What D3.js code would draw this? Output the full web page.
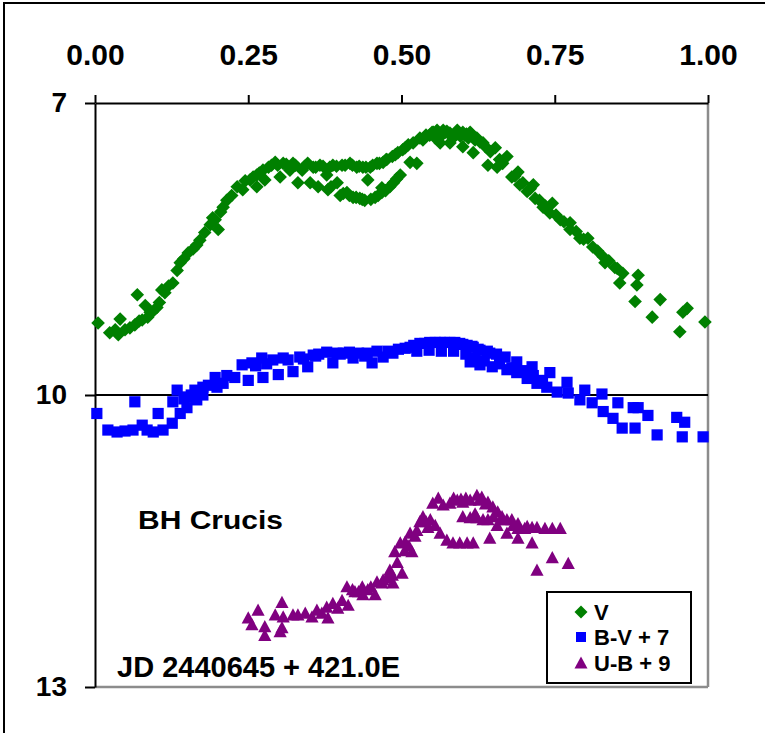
<!DOCTYPE html>
<html><head><meta charset="utf-8">
<script src="https://cdn.jsdelivr.net/npm/d3@7"></script>
<style>
html,body{margin:0;padding:0;background:#fff;}
svg{display:block;font-family:Arial,"Liberation Sans",sans-serif;}
</style></head>
<body><svg id="c" width="765" height="733"></svg>
<script>
// ---- data (phase, value) ----
const xTicks = [0, 0.25, 0.5, 0.75, 1.0];
const yTicks = [7, 10, 13];
const seriesNames = ["V", "B-V + 7", "U-B + 9"];
const bvOffset = 7, ubOffset = 9;

const vPhase = [0.005,0.024,0.038,0.041,0.049,0.057,0.065,0.069,0.077,0.082,0.086,0.093,0.101,0.109,0.114,0.127,0.134,0.139,0.152,0.166,0.171,0.179,0.188,0.192,0.201,0.209,0.215,0.223,0.232,0.241,0.253,0.264,0.264,0.274,0.277,0.294,0.302,0.307,0.318,0.323,0.331,0.338,0.347,0.351,0.356,0.364,0.367,0.378,0.380,0.388,0.395,0.400,0.403,0.411,0.416,0.421,0.427,0.432,0.437,0.440,0.445,0.449,0.457,0.460,0.468,0.468,0.470,0.481,0.485,0.494,0.498,0.506,0.511,0.514,0.519,0.525,0.535,0.546,0.558,0.563,0.568,0.579,0.579,0.591,0.600,0.600,0.612,0.617,0.623,0.633,0.641,0.653,0.656,0.672,0.680,0.690,0.693,0.705,0.715,0.718,0.731,0.746,0.742,0.759,0.775,0.775,0.791,0.804,0.812,0.829,0.832,0.848,0.861,0.856,0.886,0.884,0.881,0.922,0.909,0.959,0.966,0.954,0.995,0.476,0.490,0.502,0.530,0.552,0.574,0.585,0.596,0.606,
  0.298,0.312,0.327,0.342,0.360,0.372,0.383,0.394,0.408,0.420,0.431,0.442,0.453,0.464,0.475,
  0.385,0.405,0.415,0.426,0.436,0.450,0.462,0.474,0.487,0.492,
  0.245,0.258,0.268,0.283,0.288,0.196,0.205,0.160,0.145,0.120,0.105,0.090,0.072,0.033,
  0.540,0.550,0.555,0.566,0.572,0.584,0.590,0.603,0.609,0.615,0.620,0.628,0.637,0.645,
  0.660,0.665,0.685,0.698,0.710,0.725,0.735,0.752,0.765,0.785,0.797,0.820,0.838,0.852];
const vMag = [9.26,9.36,9.38,9.22,9.33,9.31,9.28,8.97,9.23,9.08,9.20,9.15,9.10,8.92,8.95,8.85,8.72,8.64,8.54,8.46,8.41,8.33,8.25,8.18,8.30,8.07,8.00,7.95,7.86,7.89,7.79,7.74,7.86,7.69,7.79,7.61,7.76,7.62,7.69,7.62,7.82,7.69,7.62,7.82,7.66,7.86,7.64,7.74,7.89,7.64,7.82,7.95,7.64,7.92,7.62,7.97,7.66,7.98,7.66,8.00,7.79,7.66,7.97,7.62,7.87,7.92,7.61,7.86,7.55,7.51,7.74,7.46,7.43,7.61,7.41,7.62,7.38,7.33,7.28,7.41,7.28,7.31,7.41,7.28,7.30,7.45,7.30,7.51,7.36,7.41,7.64,7.46,7.66,7.55,7.76,7.71,7.84,7.91,7.84,7.98,8.07,8.03,8.13,8.20,8.23,8.30,8.39,8.39,8.48,8.58,8.64,8.69,8.75,8.85,8.77,8.87,9.04,9.02,9.20,9.15,9.11,9.35,9.25,7.58,7.53,7.48,7.36,7.30,7.29,7.33,7.34,7.32,
  7.64,7.63,7.64,7.65,7.66,7.65,7.66,7.65,7.64,7.64,7.65,7.66,7.64,7.62,7.58,
  7.86,7.93,7.95,7.97,7.99,7.99,7.95,7.90,7.82,7.78,
  7.80,7.76,7.72,7.66,7.64,8.20,8.12,8.50,8.60,8.88,9.05,9.15,9.24,9.33,
  7.33,7.30,7.36,7.33,7.30,7.36,7.32,7.33,7.36,7.33,7.38,7.40,7.45,7.50,
  7.58,7.62,7.75,7.82,7.88,8.00,8.06,8.15,8.22,8.32,8.40,8.52,8.62,8.70];

const bvPhase = [0.003,0.021,0.036,0.049,0.062,0.065,0.077,0.085,0.095,0.103,0.111,0.126,0.127,0.134,0.139,0.150,0.150,0.163,0.166,0.176,0.176,0.196,0.199,0.209,0.228,0.240,0.250,0.256,0.272,0.274,0.290,0.299,0.307,0.323,0.334,0.347,0.356,0.378,0.388,0.405,0.421,0.444,0.452,0.470,0.486,0.506,0.514,0.530,0.546,0.563,0.579,0.595,0.607,0.617,0.628,0.644,0.612,0.628,0.648,0.669,0.672,0.688,0.688,0.705,0.713,0.721,0.737,0.742,0.754,0.772,0.770,0.791,0.799,0.811,0.829,0.827,0.845,0.853,0.860,0.878,0.881,0.886,0.902,0.917,0.949,0.962,0.958,0.992,
  0.365,0.395,0.415,0.430,0.460,0.478,0.495,0.520,0.538,0.555,0.570,0.587,0.600,0.615,0.625,0.640,0.655,
  0.525,0.545,0.565,0.585,0.605,0.620,0.635,0.660,0.680,0.700,0.715,0.730,
  0.262,0.280,0.315,0.340,0.360,0.400,0.440,0.145,0.157,0.185,0.215];
const bvColor = [3.19,3.36,3.38,3.37,3.36,3.07,3.31,3.36,3.38,3.19,3.36,3.29,3.07,2.95,3.19,3.13,3.02,2.95,3.05,2.92,3.00,2.82,2.92,2.88,2.82,2.69,2.85,2.67,2.62,2.82,2.64,2.79,2.62,2.76,2.61,2.71,2.59,2.56,2.67,2.57,2.62,2.57,2.67,2.61,2.57,2.52,2.51,2.47,2.46,2.46,2.46,2.47,2.49,2.51,2.54,2.57,2.66,2.69,2.71,2.61,2.74,2.66,2.77,2.83,2.71,2.88,2.92,2.77,2.97,2.98,2.87,3.05,2.95,3.08,3.17,2.99,3.24,3.08,3.34,3.13,3.34,3.13,3.21,3.41,3.23,3.28,3.43,3.43,
  2.58,2.57,2.56,2.57,2.55,2.55,2.53,2.49,2.47,2.46,2.46,2.46,2.48,2.50,2.53,2.55,2.58,
  2.55,2.54,2.55,2.55,2.58,2.62,2.65,2.68,2.72,2.75,2.80,2.85,
  2.70,2.68,2.64,2.63,2.60,2.58,2.60,3.04,3.00,2.90,2.80];

const ubPhase = [0.250,0.266,0.256,0.277,0.277,0.294,0.305,0.305,0.302,0.307,0.323,0.331,0.343,0.354,0.362,0.370,0.380,0.378,0.388,0.396,0.403,0.411,0.413,0.424,0.436,0.437,0.445,0.457,0.460,0.468,0.476,0.486,0.481,0.493,0.501,0.489,0.498,0.506,0.517,0.514,0.525,0.530,0.535,0.543,0.551,0.560,0.568,0.579,0.591,0.600,0.612,0.623,0.631,0.641,0.649,0.657,0.664,0.672,0.682,0.690,0.701,0.713,0.721,0.734,0.746,0.759,0.547,0.555,0.563,0.574,0.584,0.595,0.607,0.617,0.600,0.612,0.623,0.633,0.641,0.656,0.644,0.672,0.690,0.713,0.746,0.721,0.772,0.620,
  0.420,0.430,0.450,0.470,0.485,0.505,0.512,0.522,0.540,0.585,0.597,0.605,0.627,0.637,0.690,0.705,0.650,0.665,0.680];
const ubColor = [3.29,3.21,3.36,3.38,3.47,3.26,3.13,3.39,3.43,3.28,3.26,3.26,3.24,3.28,3.21,3.24,3.29,3.18,3.14,3.19,3.11,2.97,3.16,3.02,2.97,3.05,3.00,3.05,2.92,2.93,2.88,2.93,2.80,2.72,2.83,2.61,2.52,2.51,2.61,2.42,2.39,2.30,2.25,2.36,2.11,2.06,2.13,2.11,2.08,2.10,2.08,2.03,2.05,2.10,2.15,2.20,2.25,2.28,2.34,2.37,2.37,2.36,2.36,2.37,2.37,2.37,2.28,2.34,2.42,2.49,2.52,2.52,2.52,2.52,2.25,2.26,2.26,2.28,2.28,2.34,2.47,2.42,2.47,2.52,2.67,2.80,2.73,2.22,
  3.00,3.02,2.97,2.90,2.85,2.60,2.55,2.45,2.30,2.06,2.07,2.06,2.08,2.12,2.32,2.35,2.25,2.28,2.28];

// ---- drawing ----
const svg = d3.select("#c");
const x = d3.scaleLinear().domain([0, 1]).range([95, 708]);
const y = d3.scaleLinear().domain([7, 13]).range([103, 687]);
const colors = ["#008000", "#0000ff", "#800080"];
const FONT = "Arial, 'Liberation Sans', sans-serif";

// outer frame
svg.append("rect").attr("x", 4).attr("y", 3).attr("width", 800).attr("height", 800)
  .attr("fill", "#fff").attr("stroke", "#000").attr("stroke-width", 2);

// plot-area border (right & bottom grey)
svg.append("line").attr("x1", x(1)).attr("x2", x(1)).attr("y1", y(7)).attr("y2", y(13))
  .attr("stroke", "#8c8c8c").attr("stroke-width", 2.5);
svg.append("line").attr("x1", x(0)).attr("x2", x(1)).attr("y1", y(13)).attr("y2", y(13))
  .attr("stroke", "#8c8c8c").attr("stroke-width", 2.5);

// gridline at 10
svg.append("line").attr("x1", x(0)).attr("x2", x(1)).attr("y1", y(10)).attr("y2", y(10))
  .attr("stroke", "#000").attr("stroke-width", 2);

// top axis
const gx = svg.append("g").attr("transform", `translate(0,${y(7)})`)
  .call(d3.axisTop(x).tickValues(xTicks).tickFormat(d3.format(".2f")).tickSize(8).tickSizeOuter(0).tickPadding(30));
gx.select(".domain").attr("stroke", "#000").attr("stroke-width", 2);
gx.selectAll(".tick line").attr("stroke", "#000").attr("stroke-width", 2);
gx.selectAll(".tick text").attr("font-size", 30).attr("font-weight", "bold").attr("fill", "#000")
  .attr("font-family", FONT);

// left axis
const gy = svg.append("g").attr("transform", `translate(${x(0)},0)`)
  .call(d3.axisLeft(y).tickValues(yTicks).tickFormat(d3.format("d")).tickSize(10).tickSizeOuter(0).tickPadding(18));
gy.select(".domain").attr("stroke", "#000").attr("stroke-width", 2);
gy.selectAll(".tick line").attr("stroke", "#000").attr("stroke-width", 2);
gy.selectAll(".tick text").attr("font-size", 28).attr("font-weight", "bold").attr("fill", "#000")
  .attr("font-family", FONT);

// marker shapes
function diamond(s){ return `M0,${-s}L${s},0L0,${s}L${-s},0Z`; }
function square(s){ return `M${-s},${-s}H${s}V${s}H${-s}Z`; }
function triangle(s){ return `M0,${-s}L${s},${s*0.85}L${-s},${s*0.85}Z`; }
const shapes = [diamond(6.8), square(5.6), triangle(6.6)];

const plot = svg.append("g");
const vData = vPhase.map((p, i) => [p, vMag[i]]);
const bvData = bvPhase.map((p, i) => [p, bvColor[i] + bvOffset]);
const ubData = ubPhase.map((p, i) => [p, ubColor[i] + ubOffset]);
[vData, bvData, ubData].forEach((data, k) => {
  plot.append("g").selectAll("path").data(data).join("path")
    .attr("d", shapes[k])
    .attr("transform", d => `translate(${x(d[0])},${y(d[1])})`)
    .attr("fill", colors[k]);
});

// annotations
svg.append("text").attr("x", 138).attr("y", 529).text("BH Crucis")
  .attr("font-size", 26).attr("font-weight", "bold").attr("textLength", 145).attr("lengthAdjust", "spacingAndGlyphs");
svg.append("text").attr("x", 117).attr("y", 677).text("JD 2440645 + 421.0E")
  .attr("font-size", 29).attr("font-weight", "bold");

// legend
const lg = svg.append("g");
lg.append("rect").attr("x", 547).attr("y", 592).attr("width", 144).attr("height", 91)
  .attr("fill", "#fff").attr("stroke", "#000").attr("stroke-width", 2);
const legShapes = [diamond(6.5), square(5), triangle(6.5)];
const rowY = [612, 637, 663];
seriesNames.forEach((n, k) => {
  lg.append("path").attr("d", legShapes[k]).attr("transform", `translate(581,${rowY[k]})`).attr("fill", colors[k]);
  lg.append("text").attr("x", 594).attr("y", rowY[k]).attr("dy", "0.36em").text(n)
    .attr("font-size", 22).attr("font-weight", "bold");
});
</script></body></html>
